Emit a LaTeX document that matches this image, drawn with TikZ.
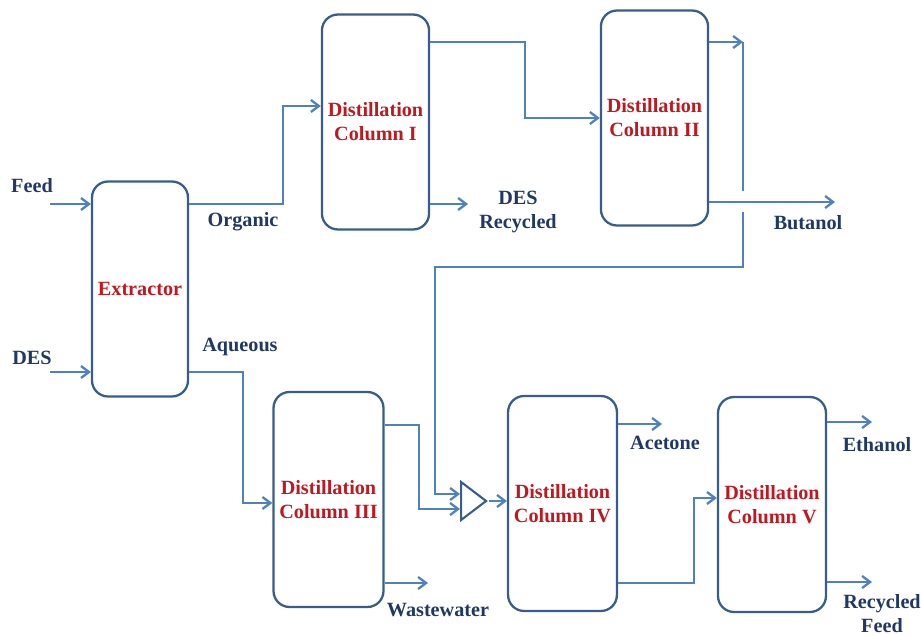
\documentclass[tikz,border=0pt]{standalone}
\usepackage{fontspec}
\setmainfont{Liberation Serif}
\usetikzlibrary{arrows.meta,shapes.geometric}

\definecolor{flowblue}{RGB}{79,129,189}
\definecolor{boxblue}{RGB}{56,93,138}
\definecolor{streamtxt}{RGB}{31,56,100}
\definecolor{unitred}{RGB}{192,24,32}

\tikzset{
    unit/.style={draw=boxblue, line width=1.3pt, rounded corners=0.32cm,
        minimum width=2.14cm, minimum height=4.3cm, align=center,
        text=unitred, font=\fontsize{11.5}{13.6}\selectfont\bfseries},
    stream/.style={align=center, text=streamtxt, inner sep=0pt,
        font=\fontsize{11.5}{13.6}\selectfont\bfseries},
    flow/.style={draw=flowblue, line width=1.3pt},
    mixer/.style={draw=boxblue, line width=1.2pt, isosceles triangle,
        isosceles triangle stretches, inner sep=0pt,
        minimum width=0.76cm, minimum height=0.5cm}
}

\begin{document}
\begin{tikzpicture}[x=0.02cm, y=-0.02cm, >={Straight Barb[length=1.6mm,width=2.4mm]}]
    \useasboundingbox (0,0) rectangle (921,635);

    \node[unit, minimum width=1.92cm] (ext) at (140,289) {Extractor};
    \node[unit] (dc1) at (375.5,122) {Distillation\\Column I};
    \node[unit] (dc2) at (654.5,118) {Distillation\\Column II};
    \node[unit] (dc3) at (328.5,499.5) {Distillation\\Column III};
    \node[unit, minimum width=2.1cm] (dc4) at (562.5,503.5) {Distillation\\Column IV};
    \node[unit, minimum width=2.16cm] (dc5) at (772,504.5) {Distillation\\Column V};
    \node[mixer] (mix) at (470.5,501) {};

    \node[stream] (feedlbl) at (32,186) {Feed};
    \node[stream] (deslbl) at (32,358) {DES};
    \node[stream] (orglbl) at (243,222) {Organic};
    \node[stream] (aqlbl) at (240,347) {Aqueous};
    \node[stream] (reclbl) at (518,212) {DES\\Recycled};
    \node[stream] (butlbl) at (808,223) {Butanol};
    \node[stream] (wwlbl) at (438,610) {Wastewater};
    \node[stream] (acelbl) at (665,443) {Acetone};
    \node[stream] (ethlbl) at (877,445) {Ethanol};
    \node[stream] (rflbl) at (882,614) {Recycled\\Feed};

    \coordinate (feedin) at (50,204);
    \coordinate (desin) at (50,372);
    \coordinate (orgup) at (283,106);
    \coordinate (aqdown) at (243,503);
    \coordinate (d1top) at (525,42);
    \coordinate (desout) at (468,204);
    \coordinate (d2top) at (743,42);
    \coordinate (butout) at (835,202);
    \coordinate (hopa) at (743,191);
    \coordinate (hopb) at (743,212);
    \coordinate (rc1) at (743,267);
    \coordinate (rc2) at (435,494);
    \coordinate (d3top) at (419,425);
    \coordinate (d3mix) at (419,509);
    \coordinate (wwout) at (428,583);
    \coordinate (aceout) at (662,424);
    \coordinate (d4bot) at (694,583);
    \coordinate (d5in) at (694,498);
    \coordinate (ethout) at (872,422);
    \coordinate (rfout) at (872,582);

    \draw[flow,->] (feedin) -- (ext.west |- feedin);
    \draw[flow,->] (desin) -- (ext.west |- desin);
    \draw[flow,->] (ext.east |- feedin) -| (orgup) -- (dc1.west |- orgup);
    \draw[flow,->] (ext.east |- desin) -| (aqdown) -- (dc3.west |- aqdown);
    \draw[flow,->] (dc1.east |- d1top) -- (d1top) |- (dc2.west);
    \draw[flow,->] (dc1.east |- desout) -- (desout);
    \draw[flow,->] (dc2.east |- d2top) -- (d2top);
    \draw[flow,->] (dc2.east |- butout) -- (butout);
    \draw[flow] (d2top) -- (hopa);
    \draw[flow,->] (hopb) -- (rc1) -| (rc2) -- (mix.west |- rc2);
    \draw[flow,->] (dc3.east |- d3top) -| (d3mix) -- (mix.west |- d3mix);
    \draw[flow,->] (dc3.east |- wwout) -- (wwout);
    \draw[flow,->] (mix.apex) -- (dc4.west |- mix.apex);
    \draw[flow,->] (dc4.east |- aceout) -- (aceout);
    \draw[flow,->] (dc4.east |- d4bot) -| (d5in) -- (dc5.west |- d5in);
    \draw[flow,->] (dc5.east |- ethout) -- (ethout);
    \draw[flow,->] (dc5.east |- rfout) -- (rfout);
\end{tikzpicture}
\end{document}
